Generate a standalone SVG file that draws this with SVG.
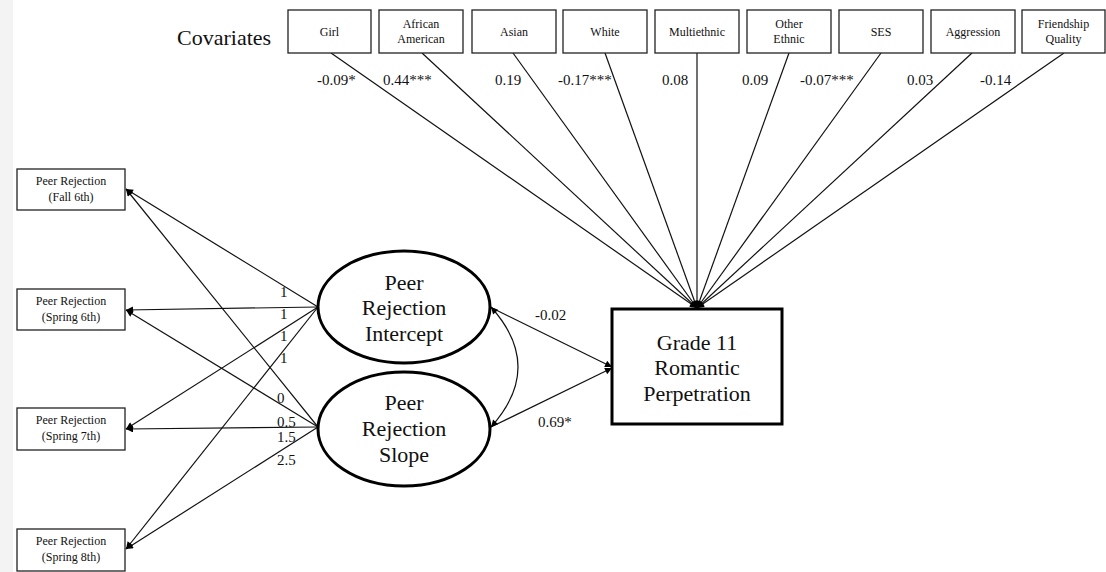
<svg xmlns="http://www.w3.org/2000/svg" width="1106" height="572" viewBox="0 0 1106 572">
<defs>
<marker id="ah" viewBox="0 0 10 10" refX="10" refY="5" markerWidth="8" markerHeight="7" markerUnits="userSpaceOnUse" orient="auto-start-reverse">
<path d="M0,0 L10,5 L0,10 z" fill="#000"/>
</marker>
</defs>
<style>
text{font-family:"Liberation Serif","Times New Roman",serif;fill:#111}
.box{fill:#fff;stroke:#222;stroke-width:1.3}
.big{fill:#fff;stroke:#000;stroke-width:3}
.s{font-size:12px;text-anchor:middle}
.c{font-size:15px}
.l{font-size:22px;text-anchor:middle}
.ln{stroke:#111;stroke-width:1.2;fill:none}
.ar{stroke:#111;stroke-width:1.2;fill:none;marker-end:url(#ah)}
</style>
<rect width="1106" height="572" fill="#fff"/>
<rect x="0" y="0" width="13" height="572" fill="#f3f3f3"/>
<text x="177" y="45" style="font-size:22px">Covariates</text>

<g id="connectors">
<line class="ar" x1="331" y1="53" x2="697" y2="308"/>
<line class="ar" x1="422" y1="53" x2="697" y2="308"/>
<line class="ar" x1="513" y1="53" x2="697" y2="308"/>
<line class="ar" x1="605" y1="53" x2="697" y2="308"/>
<line class="ar" x1="697" y1="53" x2="697" y2="308"/>
<line class="ar" x1="789" y1="53" x2="697" y2="308"/>
<line class="ar" x1="881" y1="53" x2="697" y2="308"/>
<line class="ar" x1="972" y1="53" x2="697" y2="308"/>
<line class="ar" x1="1064" y1="53" x2="697" y2="308"/>
<line class="ar" x1="318" y1="307" x2="126" y2="189"/>
<line class="ar" x1="318" y1="307" x2="126" y2="310"/>
<line class="ar" x1="318" y1="307" x2="126" y2="429"/>
<line class="ar" x1="318" y1="307" x2="126" y2="549"/>
<line class="ar" x1="318" y1="427" x2="126" y2="189"/>
<line class="ar" x1="318" y1="427" x2="126" y2="310"/>
<line class="ar" x1="318" y1="427" x2="126" y2="429"/>
<line class="ar" x1="318" y1="427" x2="126" y2="549"/>
<line class="ar" x1="490" y1="307" x2="612" y2="367"/>
<line class="ar" x1="491" y1="427" x2="612" y2="368"/>
<path class="ln" d="M491,307 Q545,367 491,427" style="marker-start:url(#ah);marker-end:url(#ah)"/>
</g>

<g id="cov-girl"><rect class="box" x="288" y="10" width="83" height="43"/><text class="s" x="329.5" y="36">Girl</text></g>
<g id="cov-afam"><rect class="box" x="379" y="10" width="84" height="43"/><text class="s" x="421" y="28">African</text><text class="s" x="421" y="43">American</text></g>
<g id="cov-asian"><rect class="box" x="472" y="10" width="84" height="43"/><text class="s" x="514" y="36">Asian</text></g>
<g id="cov-white"><rect class="box" x="563" y="10" width="84" height="43"/><text class="s" x="605" y="36">White</text></g>
<g id="cov-multi"><rect class="box" x="655" y="10" width="84" height="43"/><text class="s" x="697" y="36">Multiethnic</text></g>
<g id="cov-other"><rect class="box" x="747" y="10" width="84" height="43"/><text class="s" x="789" y="28">Other</text><text class="s" x="789" y="43">Ethnic</text></g>
<g id="cov-ses"><rect class="box" x="839" y="10" width="84" height="43"/><text class="s" x="881" y="36">SES</text></g>
<g id="cov-aggr"><rect class="box" x="931" y="10" width="84" height="43"/><text class="s" x="973" y="36">Aggression</text></g>
<g id="cov-friend"><rect class="box" x="1022" y="10" width="83" height="43"/><text class="s" x="1063.5" y="28">Friendship</text><text class="s" x="1063.5" y="43">Quality</text></g>

<g id="coef-labels">
<text class="c" x="317" y="85">-0.09*</text>
<text class="c" x="383" y="85">0.44***</text>
<text class="c" x="495" y="85">0.19</text>
<text class="c" x="558" y="85">-0.17***</text>
<text class="c" x="662" y="85">0.08</text>
<text class="c" x="742" y="85">0.09</text>
<text class="c" x="800" y="85">-0.07***</text>
<text class="c" x="907" y="85">0.03</text>
<text class="c" x="980" y="85">-0.14</text>
<text class="c" x="280" y="297">1</text>
<text class="c" x="280" y="319">1</text>
<text class="c" x="280" y="341">1</text>
<text class="c" x="280" y="363">1</text>
<text class="c" x="277" y="403">0</text>
<text class="c" x="277" y="427">0.5</text>
<text class="c" x="277" y="442">1.5</text>
<text class="c" x="277" y="465">2.5</text>
<text class="c" x="535" y="320">-0.02</text>
<text class="c" x="538" y="427">0.69*</text>
</g>

<g id="pr-fall6"><rect class="box" x="17" y="169" width="108" height="41"/><text class="s" x="71" y="185">Peer Rejection</text><text class="s" x="71" y="201">(Fall 6th)</text></g>
<g id="pr-spring6"><rect class="box" x="17" y="289" width="108" height="41"/><text class="s" x="71" y="305">Peer Rejection</text><text class="s" x="71" y="321">(Spring 6th)</text></g>
<g id="pr-spring7"><rect class="box" x="17" y="408" width="108" height="42"/><text class="s" x="71" y="424">Peer Rejection</text><text class="s" x="71" y="440">(Spring 7th)</text></g>
<g id="pr-spring8"><rect class="box" x="17" y="529" width="108" height="42"/><text class="s" x="71" y="545">Peer Rejection</text><text class="s" x="71" y="561">(Spring 8th)</text></g>

<g id="intercept"><ellipse class="big" cx="404" cy="307" rx="86" ry="56"/><text class="l" x="404" y="290">Peer</text><text class="l" x="404" y="315">Rejection</text><text class="l" x="404" y="341">Intercept</text></g>
<g id="slope"><ellipse class="big" cx="404" cy="429" rx="86" ry="57"/><text class="l" x="404" y="410">Peer</text><text class="l" x="404" y="436">Rejection</text><text class="l" x="404" y="462">Slope</text></g>

<g id="outcome"><rect class="big" x="612" y="309" width="170" height="115"/><text class="l" x="697" y="350">Grade 11</text><text class="l" x="697" y="375">Romantic</text><text class="l" x="697" y="401">Perpetration</text></g>
</svg>
